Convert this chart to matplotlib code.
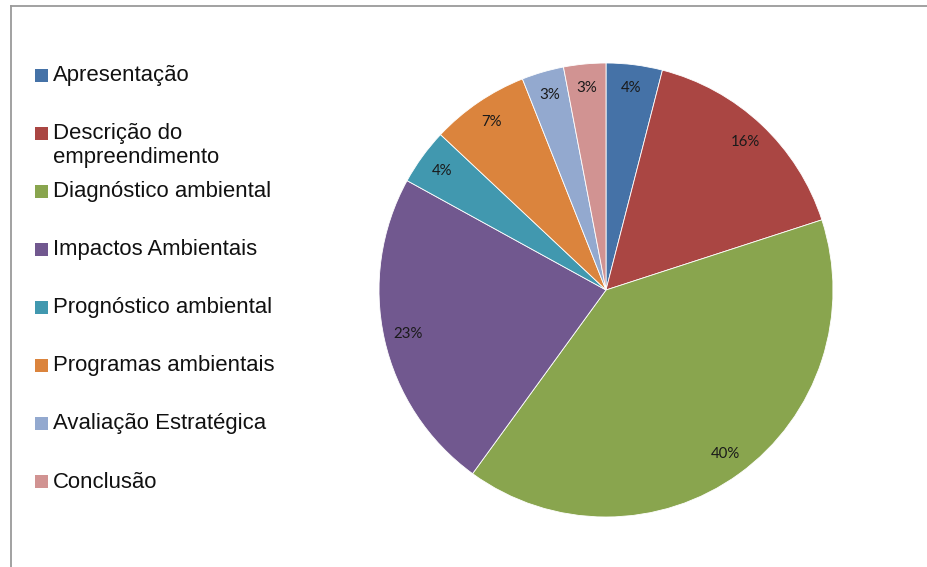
import matplotlib
matplotlib.use("Agg")
import matplotlib.pyplot as plt
from matplotlib.patches import Rectangle
from matplotlib.lines import Line2D

categories = [
    "Apresentação",
    "Descrição do\nempreendimento",
    "Diagnóstico ambiental",
    "Impactos Ambientais",
    "Prognóstico ambiental",
    "Programas ambientais",
    "Avaliação Estratégica",
    "Conclusão",
]
values = [4, 16, 40, 23, 4, 7, 3, 3]
colors = ["#4572A7", "#AA4643", "#89A54E", "#71588F",
          "#4198AF", "#DB843D", "#93A9CF", "#D19392"]

W, H = 928, 567
fig = plt.figure(figsize=(W / 100, H / 100), dpi=100)
fig.patch.set_facecolor("white")

# chart-area frame: top and left edges only are inside the image
frame_kw = dict(transform=fig.transFigure, color="#9a9a9a", linewidth=1.3)
fig.add_artist(Line2D([11 / W, 1.05], [(H - 6) / H] * 2, **frame_kw))
fig.add_artist(Line2D([11 / W] * 2, [-0.05, (H - 6) / H], **frame_kw))

# pie, centred at (606, 290) px with radius 227 px
cx, cy, r = 606, 290, 227
ax = fig.add_axes([(cx - r) / W, (H - cy - r) / H, 2 * r / W, 2 * r / H])
wedges, texts, autotexts = ax.pie(
    values, colors=colors, startangle=90, counterclock=False,
    autopct="%.0f%%", pctdistance=0.895,
    wedgeprops=dict(edgecolor="white", linewidth=0.6),
    textprops=dict(fontsize=10.8, family=["Lato", "DejaVu Sans"], color="#1a1a1a"),
)
ax.set_xlim(-1, 1)
ax.set_ylim(-1, 1)
ax.set_aspect("equal")
ax.axis("off")

# legend on the left
font = dict(fontsize=15.9, family=["Liberation Sans", "DejaVu Sans"],
            color="#111111")
y0, step = 76, 58
for i, (lab, col) in enumerate(zip(categories, colors)):
    y = y0 + i * step
    fig.add_artist(Rectangle((35 / W, (H - y - 6) / H), 13 / W, 13 / H,
                             transform=fig.transFigure, facecolor=col,
                             edgecolor="none"))
    if "\n" in lab:
        fig.text(53 / W, (H - y + 11) / H, lab, ha="left", va="top",
                 linespacing=1.2, **font)
    else:
        fig.text(53 / W, (H - y) / H, lab, ha="left", va="center", **font)

fig.savefig("out.png", dpi=100, facecolor="white")
